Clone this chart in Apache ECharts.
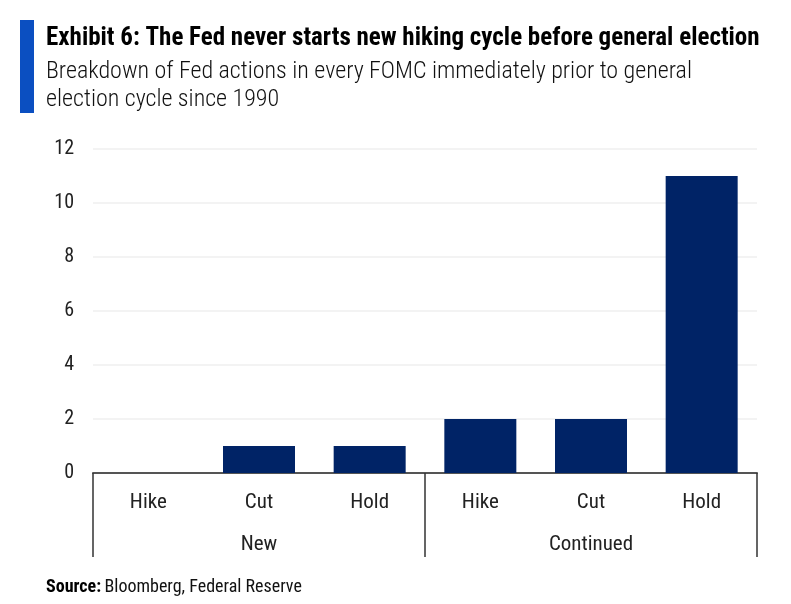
<!DOCTYPE html>
<html>
<head>
<meta charset="utf-8">
<script src="https://cdn.jsdelivr.net/npm/echarts@6/dist/echarts.min.js"></script>
<style>
	html, body { margin: 0; padding: 0; background: #fff; }
	#main { width: 791px; height: 604px; }
</style>
</head>
<body>
<div id="main"></div>
<script>
var actions = ['Hike', 'Cut', 'Hold', 'Hike', 'Cut', 'Hold'];
var groups = ['New', 'Continued'];
var counts = [0, 1, 1, 2, 2, 11];
var yTicks = { min: 0, max: 12, interval: 2 };

var font = '"Liberation Sans Narrow", "Roboto Condensed", Roboto, sans-serif';
var chart = echarts.init(document.getElementById('main'));

var option = {
	animation: false,
	graphic: [{
		type: 'rect',
		shape: { x: 20, y: 20, width: 14, height: 93 },
		style: { fill: '#0b4fc1' }
	}, {
		type: 'text',
		left: 46,
		top: 26,
		style: {
			text: 'Exhibit 6: The Fed never starts new hiking cycle before general election',
			font: 'bold 25px ' + font,
			fill: '#000'
		}
	}, {
		type: 'text',
		left: 46,
		top: 58,
		style: {
			text: 'Breakdown of Fed actions in every FOMC immediately prior to general\nelection cycle since 1990',
			font: '300 24px ' + font,
			lineHeight: 28,
			fill: '#111'
		}
	}, {
		type: 'text',
		left: 46,
		top: 578,
		style: {
			rich: {
				b: { font: 'bold 18px ' + font, fill: '#000' },
				n: { font: '18px ' + font, fill: '#111' }
			},
			text: '{b|Source:} {n|Bloomberg, Federal Reserve}'
		}
	}],
	grid: {
		left: 93,
		right: 34,
		top: 149,
		bottom: 131
	},
	xAxis: [{
		type: 'category',
		data: actions,
		axisLine: { lineStyle: { color: '#555', width: 2 } },
		axisTick: { show: false },
		axisLabel: { color: '#222', fontSize: 21, fontFamily: font, margin: 19 }
	}, {
		type: 'category',
		data: groups,
		position: 'bottom',
		axisLine: { show: false },
		axisTick: { show: true, length: 84, lineStyle: { color: '#333', width: 1.5 } },
		axisLabel: { color: '#222', fontSize: 21, fontFamily: font, margin: 61 },
		splitLine: { show: false }
	}],
	yAxis: {
		type: 'value',
		min: yTicks.min,
		max: yTicks.max,
		interval: yTicks.interval,
		axisLine: { show: false },
		axisTick: { show: false },
		axisLabel: { color: '#222', fontSize: 20, fontFamily: font, margin: 19 },
		splitLine: { lineStyle: { color: '#efefef', width: 1.5 } }
	},
	series: [{
		type: 'bar',
		data: counts,
		xAxisIndex: 0,
		barWidth: 72,
		itemStyle: { color: '#002366' }
	}]
};
chart.setOption(option);
</script>
</body>
</html>
